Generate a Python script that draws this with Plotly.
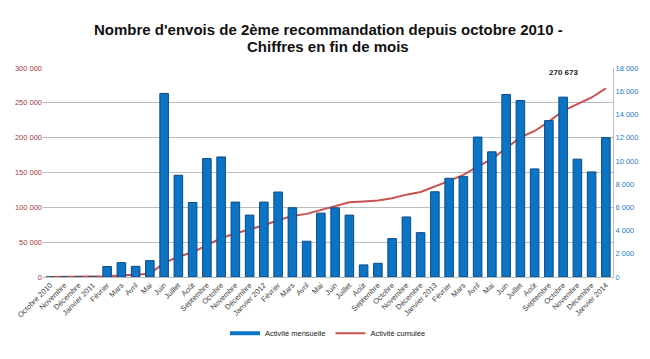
import plotly.graph_objects as go

months = ["Octobre 2010", "Novembre", "Décembre", "Janvier 2011", "Février", "Mars", "Avril", "Mai",
          "Juin", "Juillet", "Août", "Septembre", "Octobre", "Novembre", "Décembre", "Janvier 2012",
          "Février", "Mars", "Avril", "Mai", "Juin", "Juillet", "Août", "Septembre", "Octobre",
          "Novembre", "Décembre", "Janvier 2013", "Février", "Mars", "Avril", "Mai", "Juin", "Juillet",
          "Août", "Septembre", "Octobre", "Novembre", "Décembre", "Janvier 2014"]

monthly = [0, 0, 0, 0, 900, 1240, 920, 1410,
           15810, 8760, 6420, 10200, 10340, 6450, 5330, 6450,
           7320, 5960, 3080, 5500, 5960, 5330, 1040, 1180, 3310,
           5170, 3820, 7340, 8500, 8640, 12050, 10780, 15720, 15200,
           9310, 13470, 15490, 10150, 9050, 12000]

cumulative = [0, 0, 0, 0, 900, 2100, 3100, 4500,
              20300, 29000, 35500, 45700, 56000, 62400, 67800, 74200,
              81500, 87500, 90600, 96100, 102000, 107400, 108500, 109700, 113000,
              118200, 122000, 129400, 137900, 146500, 158600, 169400, 185100, 200300,
              209600, 223100, 238600, 248700, 257700, 270673]

final_label = "270 673"
title_lines = ["Nombre d'envois de 2ème recommandation depuis octobre 2010 -",
               "Chiffres en fin de mois"]

BLUE = "#0B74C4"
RED = "#C8524F"

xs = list(range(len(months)))

fig = go.Figure()
fig.add_trace(go.Bar(
    x=xs, y=monthly, name="Activité mensuelle", yaxis="y2", showlegend=False,
    marker=dict(color=BLUE, line=dict(color="#0A4A85", width=1)),
))
# legend entry drawn as a thick bar-like line, as in the reference
fig.add_trace(go.Scatter(
    x=[None], y=[None], name="Activité mensuelle", mode="lines",
    line=dict(color=BLUE, width=4), yaxis="y2", hoverinfo="skip",
))
fig.add_trace(go.Scatter(
    x=xs, y=cumulative, name="Activité cumulée", yaxis="y",
    mode="lines", line=dict(color=RED, width=2),
))

fig.add_annotation(x=xs[-1] - 3, y=cumulative[-1], xref="x", yref="y",
                   text="<b>" + final_label + "</b>", showarrow=False,
                   yshift=16, font=dict(size=8, color="#222222"))

for line, ypos in zip(title_lines, [1.183, 1.105]):
    fig.add_annotation(x=0.5, y=ypos, xref="paper", yref="paper", xanchor="center",
                       yanchor="middle", showarrow=False,
                       text="<b>" + line + "</b>",
                       font=dict(size=15, color="#111111"))

fig.update_layout(
    width=650, height=359,
    margin=dict(l=43, r=37, t=68, b=82, autoexpand=False),
    paper_bgcolor="white", plot_bgcolor="white",
    separators=", ",
    font=dict(family="Liberation Sans, Arial, sans-serif", size=7.5),
    bargap=0.4,
    showlegend=True,
    legend=dict(orientation="h", x=0.5, xanchor="center", y=-0.2, yanchor="top",
                font=dict(size=7.5, color="#222222"), itemwidth=30, tracegroupgap=0),
    xaxis=dict(tickmode="array", tickvals=xs, ticktext=months, tickangle=-45,
               range=[-0.5, len(months) - 0.5], showgrid=False, automargin=False,
               showline=True, linecolor="#BBBBBB", ticks="",
               tickfont=dict(size=7.5, color="#444444")),
    yaxis=dict(range=[0, 300000], dtick=50000, tickformat=",d", automargin=False,
               showgrid=True, gridcolor="#BDBDBD", gridwidth=1,
               zeroline=False, showline=False, ticks="",
               tickfont=dict(size=7.5, color="#A0403D")),
    yaxis2=dict(range=[0, 18000], dtick=2000, tickformat=",d", overlaying="y", side="right",
                automargin=False,
                showgrid=False, zeroline=False, showline=True, linecolor="#BBBBBB", ticks="",
                tickfont=dict(size=7.5, color="#1F7BC8")),
)

fig.write_html("out.html",
               config={"displayModeBar": False},
               post_script="document.body.style.margin='0';document.documentElement.style.overflow='hidden';")
